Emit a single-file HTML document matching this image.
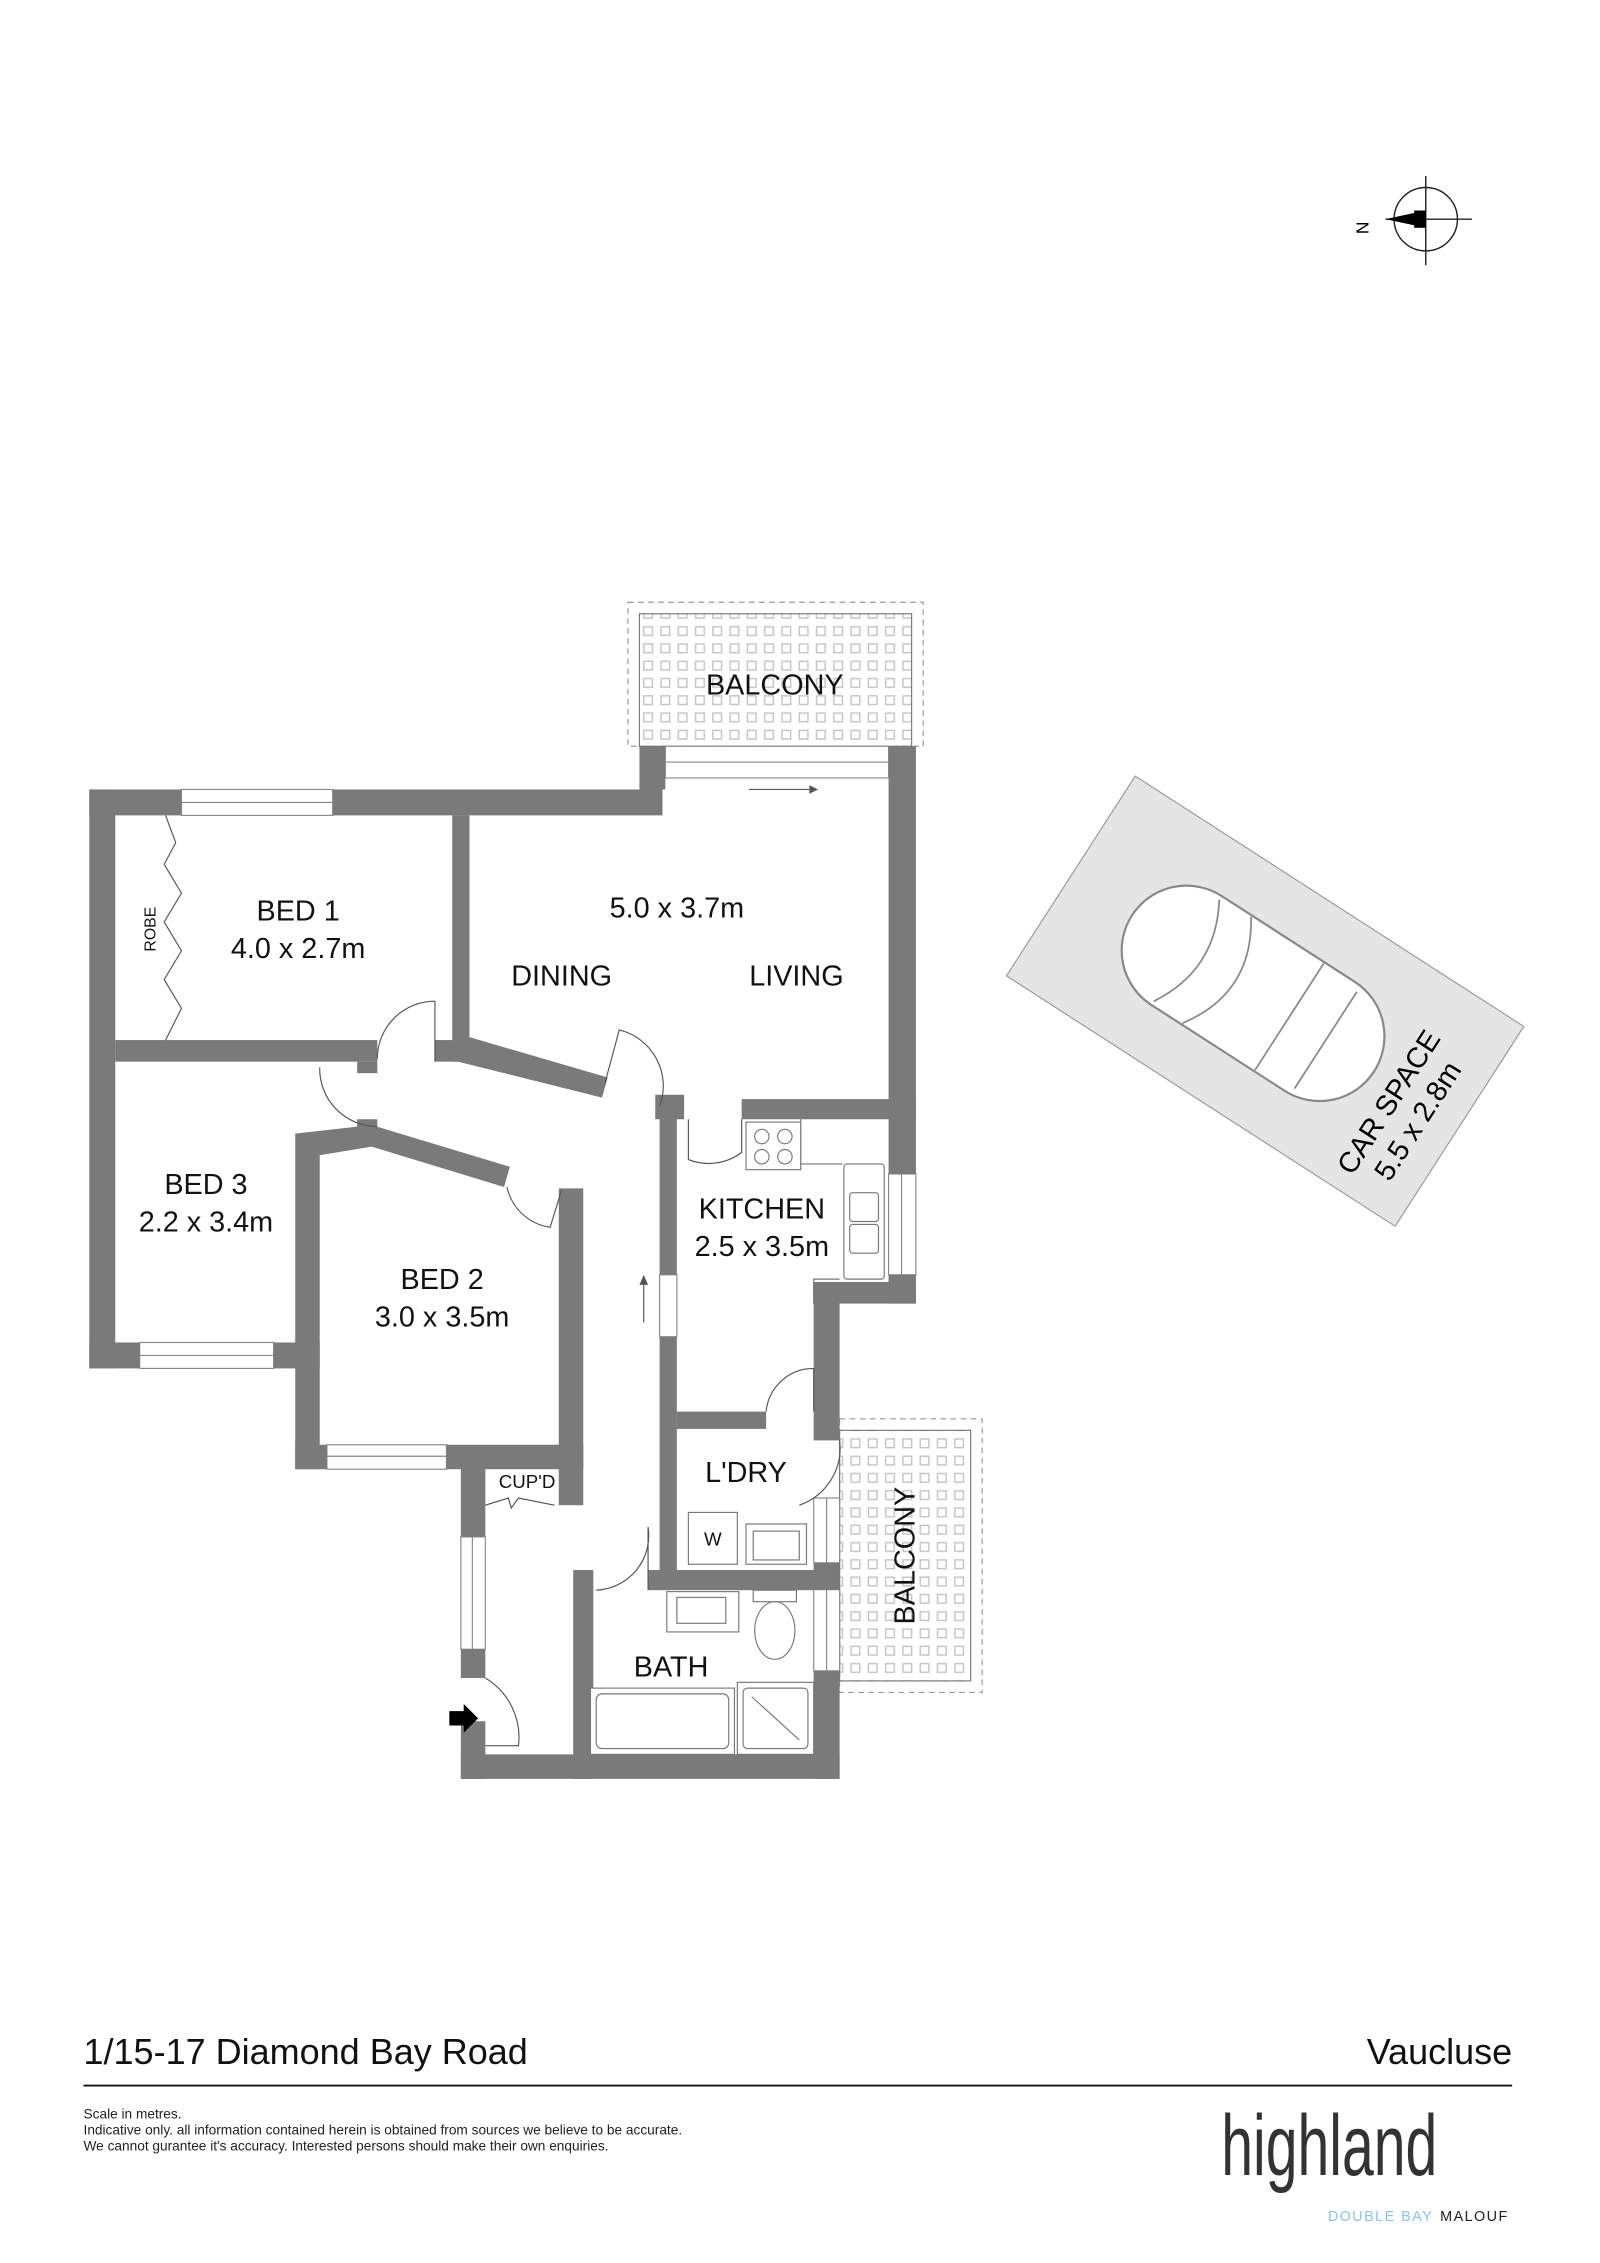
<!DOCTYPE html>
<html><head><meta charset="utf-8"><style>
html,body{margin:0;padding:0;background:#fff}
svg{display:block}
text{font-family:"Liberation Sans",sans-serif}
</style></head><body>
<svg width="1600" height="2263" viewBox="0 0 1111 1571" xmlns="http://www.w3.org/2000/svg">
<defs>
<pattern id="grid" x="0" y="0" width="12" height="12" patternUnits="userSpaceOnUse">
<rect x="3" y="3" width="6" height="6" fill="none" stroke="#c4c4c4" stroke-width="1"/>
</pattern>
</defs>
<rect width="1111" height="1571" fill="#fff"/>

<!-- compass -->
<g stroke="#222" fill="none" stroke-width="1">
<circle cx="990" cy="152" r="22"/>
<line x1="962" y1="152" x2="1022" y2="152"/>
<line x1="990" y1="122" x2="990" y2="184"/>
</g>
<polygon points="962,152 990,146 990,158" fill="#000"/>
<rect x="982" y="146" width="8" height="12" fill="#000"/>
<text x="948" y="152" font-size="12" transform="rotate(90 942 152)" text-anchor="middle">N</text>

<!-- balconies -->
<rect x="436" y="418" width="205" height="100" fill="none" stroke="#999" stroke-dasharray="4,3" stroke-width="0.8"/>
<rect x="444" y="426" width="189" height="92" fill="url(#grid)" stroke="#777" stroke-width="0.8"/>
<rect x="583" y="985" width="99" height="190" fill="none" stroke="#999" stroke-dasharray="4,3" stroke-width="0.8"/>
<rect x="583" y="993" width="91" height="174" fill="url(#grid)" stroke="#777" stroke-width="0.8"/>

<!-- windows -->
<g fill="#fff" stroke="#888" stroke-width="0.8">
<rect x="126" y="548" width="105" height="18"/><line x1="126" y1="557" x2="231" y2="557"/>
<rect x="97" y="932" width="93" height="18"/><line x1="97" y1="941" x2="190" y2="941"/>
<rect x="227" y="1003" width="83" height="17"/><line x1="227" y1="1011" x2="310" y2="1011"/>
<rect x="462" y="518" width="155" height="22"/><line x1="462" y1="529" x2="617" y2="529"/>
<rect x="617" y="815" width="19" height="70"/><line x1="626" y1="815" x2="626" y2="885"/>
<rect x="320" y="1067" width="17" height="78"/><line x1="328" y1="1067" x2="328" y2="1145"/>
<rect x="565" y="1040" width="18" height="45"/><line x1="574" y1="1040" x2="574" y2="1085"/>
<rect x="565" y="1103" width="18" height="57"/><line x1="574" y1="1103" x2="574" y2="1160"/>
<rect x="458" y="885" width="12" height="43"/>
</g>
<line x1="520" y1="548" x2="562" y2="548" stroke="#555" stroke-width="0.8"/>
<polygon points="562,545 568,548 562,551" fill="#555"/>
<line x1="447" y1="918" x2="447" y2="890" stroke="#555" stroke-width="0.8"/>
<polygon points="444,892 447,885 450,892" fill="#555"/>

<!-- walls -->
<g fill="#7a7a7a">
<rect x="62" y="548" width="64" height="18"/>
<rect x="231" y="548" width="229" height="18"/>
<rect x="444" y="518" width="18" height="30"/>
<rect x="62" y="548" width="18" height="402"/>
<rect x="62" y="932" width="35" height="18"/>
<rect x="190" y="932" width="32" height="18"/>
<rect x="80" y="722" width="182" height="15"/>
<rect x="248" y="737" width="14" height="8"/>
<rect x="314" y="566" width="12" height="171"/>
<rect x="302" y="722" width="24" height="15"/>
<polygon points="314,722 326,720 422,748 418,762 314,736"/>
<rect x="455" y="760" width="20" height="17"/>
<rect x="458" y="763" width="12" height="122"/>
<rect x="458" y="928" width="12" height="162"/>
<rect x="515" y="763" width="121" height="14"/>
<rect x="617" y="518" width="19" height="297"/>
<rect x="617" y="885" width="19" height="20"/>
<rect x="565" y="890" width="71" height="15"/>
<rect x="565" y="890" width="18" height="110"/>
<rect x="470" y="980" width="62" height="12"/>
<rect x="565" y="1085" width="18" height="18"/>
<rect x="565" y="1160" width="18" height="75"/>
<rect x="450" y="1090" width="133" height="14"/>
<rect x="398" y="1090" width="14" height="145"/>
<rect x="320" y="1218" width="263" height="17"/>
<rect x="320" y="1195" width="17" height="40"/>
<rect x="320" y="1017" width="17" height="50"/>
<rect x="320" y="1145" width="17" height="20"/>
<rect x="205" y="787" width="17" height="233"/>
<rect x="205" y="1003" width="22" height="17"/>
<rect x="310" y="1003" width="95" height="17"/>
<rect x="388" y="825" width="17" height="220"/>
<rect x="248" y="777" width="14" height="12"/>
<polygon points="205,787 258,781 354,810 350,824 258,796 222,802"/>
</g>

<!-- doors -->
<g fill="none" stroke="#555" stroke-width="0.8">
<path d="M302,695 L302,737 M302,695 A40,40 0 0 0 262,735"/>
<path d="M222,741 A40,40 0 0 0 262,782"/>
<path d="M420,752 L430,715 A40,40 0 0 1 458,768"/>
<path d="M352,824 A36,36 0 0 0 382,852 L390,826"/>
<path d="M515,777 L515,800 A38,38 0 0 1 478,805 L478,777"/>
<path d="M532,980 A33,33 0 0 1 565,950 L565,980"/>
<path d="M583,1000 A42,42 0 0 1 555,1045"/>
<path d="M450,1104 L450,1060 A38,38 0 0 1 414,1104"/>
<path d="M337,1165 A48,48 0 0 1 360,1212 L337,1212"/>
<path d="M337,1045 L353,1040 L355,1047 L360,1040 L385,1045"/>
<path d="M115,566 L122,585 L114,600 L126,620 L114,640 L126,660 L114,680 L126,700 L115,722"/>
</g>

<!-- fixtures -->
<g fill="#fff" stroke="#777" stroke-width="0.8">
<path d="M556,777 L556,808 L585,808" fill="none"/>
<rect x="518" y="779" width="38" height="33"/>
<circle cx="529" cy="789" r="5"/><circle cx="545" cy="789" r="5"/>
<circle cx="529" cy="803" r="5"/><circle cx="545" cy="803" r="5"/>
<rect x="586" y="808" width="28" height="80" rx="2"/>
<rect x="590" y="828" width="20" height="20" rx="2"/>
<rect x="590" y="850" width="20" height="20" rx="2"/>
<path d="M583,888 L565,888 L565,905" fill="none"/>
<rect x="478" y="1050" width="34" height="36"/>
<rect x="518" y="1058" width="42" height="28"/>
<rect x="523" y="1063" width="32" height="20"/>
<rect x="463" y="1105" width="50" height="28"/>
<rect x="470" y="1109" width="34" height="18"/>
<rect x="523" y="1104" width="30" height="8"/>
<ellipse cx="538" cy="1132" rx="14" ry="20"/>
<rect x="410" y="1172" width="100" height="46"/>
<rect x="414" y="1176" width="92" height="38" rx="4"/>
<rect x="512" y="1168" width="53" height="50"/>
<rect x="516" y="1172" width="45" height="42" rx="3"/>
<line x1="522" y1="1178" x2="555" y2="1208"/>
</g>
<polygon points="312,1188 322,1188 322,1183 332,1193 322,1203 322,1198 312,1198" fill="#000"/>

<!-- car space -->
<g transform="translate(878.5 695) rotate(32.8)">
<rect x="-160.5" y="-82.5" width="321" height="165" fill="#e5e5e5" stroke="#999" stroke-width="0.8"/>
<rect x="-110" y="-45" width="200" height="90" rx="45" fill="#fff" stroke="#888" stroke-width="1.5"/>
<path d="M-65,-42 Q-40,0 -65,42 M-40,-44 Q-10,0 -40,44 M20,-44 L20,44 M50,-40 L50,40" stroke="#888" fill="none" stroke-width="1.2"/>
</g>
<g transform="translate(975 772) rotate(-57.2)" font-size="20" text-anchor="middle">
<text x="0" y="-6">CAR SPACE</text>
<text x="0" y="18">5.5 x 2.8m</text>
</g>

<!-- labels -->
<g font-size="20" text-anchor="middle" fill="#111">
<text x="538" y="482">BALCONY</text>
<text x="207" y="639">BED 1</text>
<text x="207" y="665">4.0 x 2.7m</text>
<text x="470" y="637">5.0 x 3.7m</text>
<text x="390" y="684">DINING</text>
<text x="553" y="684">LIVING</text>
<text x="143" y="829">BED 3</text>
<text x="143" y="855">2.2 x 3.4m</text>
<text x="529" y="846">KITCHEN</text>
<text x="529" y="872">2.5 x 3.5m</text>
<text x="307" y="895">BED 2</text>
<text x="307" y="921">3.0 x 3.5m</text>
<text x="518" y="1029">L'DRY</text>
<text x="466" y="1164">BATH</text>
<text x="635" y="1080" transform="rotate(-90 635 1080)">BALCONY</text>
<text x="366" y="1033" font-size="13">CUP'D</text>
<text x="495" y="1073" font-size="13">W</text>
<text x="108" y="645" font-size="11" transform="rotate(-90 108 645)">ROBE</text>
</g>

<!-- footer -->
<text x="58" y="1433" font-size="25" fill="#111">1/15-17 Diamond Bay Road</text>
<text x="1050" y="1433" font-size="25" fill="#111" text-anchor="end">Vaucluse</text>
<line x1="58" y1="1448" x2="1050" y2="1448" stroke="#111" stroke-width="1.3"/>
<g font-size="9.5" fill="#222">
<text x="58" y="1471">Scale in metres.</text>
<text x="58" y="1482">Indicative only. all information contained herein is obtained from sources we believe to be accurate.</text>
<text x="58" y="1493">We cannot gurantee it's accuracy. Interested persons should make their own enquiries.</text>
</g>
<text x="848" y="1510" font-size="60" fill="#333" textLength="150" lengthAdjust="spacingAndGlyphs">highland</text>
<text x="922" y="1542" font-size="10" fill="#8ac4e6" letter-spacing="1">DOUBLE BAY</text>
<text x="1000" y="1542" font-size="10" fill="#222" letter-spacing="1">MALOUF</text>
</svg>
</body></html>
